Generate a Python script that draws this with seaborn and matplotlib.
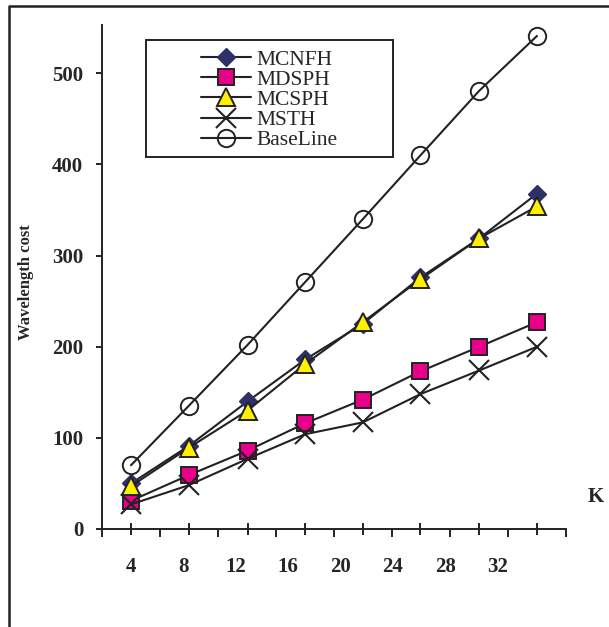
import matplotlib
matplotlib.use('Agg')
import matplotlib.pyplot as plt
import seaborn as sns
from matplotlib.lines import Line2D
from matplotlib.patches import Rectangle

# K positions of the points and the printed axis labels
k_values = [4, 8.4, 12.9, 17.3, 21.7, 26.1, 30.6, 35.0]
k_labels = [4, 8, 12, 16, 20, 24, 28, 32]

mcnfh = [50, 91, 140, 186, 225, 276, 319, 368]
mdsph = [31, 59, 86, 116, 142, 173, 200, 227]
mcsph = [47, 89, 130, 181, 227, 274, 319, 354]
msth = [27, 48, 77, 104, 117, 148, 174, 200]
baseline = [70, 135, 202, 271, 340, 410, 481, 541]

names = ['MCNFH', 'MDSPH', 'MCSPH', 'MSTH', 'BaseLine']
series = [mcnfh, mdsph, mcsph, msth, baseline]

styles = {
    'MCNFH': dict(marker='D', markersize=9.5, markerfacecolor='#2E3068', markeredgecolor='#2E3068', markeredgewidth=1),
    'MDSPH': dict(marker='s', markersize=12, markerfacecolor='#E8008A', markeredgecolor='#222222', markeredgewidth=1.4),
    'MCSPH': dict(marker='^', markersize=13.5, markerfacecolor='#FFF000', markeredgecolor='#222222', markeredgewidth=1.4),
    'MSTH': dict(marker='x', markersize=14, markeredgecolor='#222222', markeredgewidth=1.5),
    'BaseLine': dict(marker='o', markersize=12.5, markerfacecolor='none', markeredgecolor='#222222', markeredgewidth=1.4),
}

sns.set_style('ticks')
plt.rcParams['font.family'] = ['Liberation Serif', 'DejaVu Serif']

W, H = 609, 627
fig = plt.figure(figsize=(W / 100, H / 100), dpi=100)
ax = fig.add_axes([102 / W, 1 - 529 / H, 464 / W, 504 / H])

for name, vals in zip(names, series):
    sns.lineplot(x=k_values, y=vals, ax=ax, color='#222222', lw=1.5,
                 estimator=None, errorbar=None, sort=False, legend=False,
                 **styles[name])

step = (k_values[-1] - k_values[0]) / 14
ax.set_xlim(k_values[0] - step, k_values[-1] + step)
ax.set_ylim(0, 553)

# tick marks: crossing ones at the points, outward ones in between
ax.set_xticks(k_values)
ax.set_xticklabels([])
mids = [k_values[0] - step] + [(a + b) / 2 for a, b in zip(k_values[:-1], k_values[1:])] + [k_values[-1] + step]
ax.set_xticks(mids, minor=True)
ax.tick_params(axis='x', which='major', direction='inout', length=9, width=1.4, color='#222222')
ax.tick_params(axis='x', which='minor', direction='out', length=6, width=1.4, color='#222222')

ax.set_yticks([0, 100, 200, 300, 400, 500])
ax.tick_params(axis='y', direction='out', length=4.5, width=1.4, color='#222222', pad=9, labelsize=15)
for lab in ax.get_yticklabels():
    lab.set_fontweight('bold')

sec = ax.secondary_xaxis('bottom')
sec.set_xticks(k_labels)
sec.tick_params(length=0, pad=20, labelsize=15)
sec.spines['bottom'].set_visible(False)
for lab in sec.get_xticklabels():
    lab.set_fontweight('bold')

sns.despine(ax=ax)
for side in ['left', 'bottom']:
    ax.spines[side].set_linewidth(1.4)
    ax.spines[side].set_color('#222222')

ax.set_xlabel('')
ax.set_ylabel('Wavelength cost', fontsize=12, fontweight='bold')
ax.yaxis.set_label_coords((26 - 102) / 464, 0.49)
ax.yaxis.label.set_verticalalignment('center')

fig.text(596 / W, 1 - 497 / H, 'K', fontsize=15, fontweight='bold', ha='center', va='center')

ax.legend(ax.get_lines(), names, loc='center', bbox_to_anchor=(269.5 / W, 1 - 100 / H),
          bbox_transform=fig.transFigure, frameon=False, fontsize=15.5,
          handlelength=2.3, handletextpad=0.28, labelspacing=0.0, borderpad=0)

fig.add_artist(Rectangle((146 / W, 1 - 157 / H), 247 / W, 117 / H, transform=fig.transFigure,
                         fill=False, lw=1.4, ec='#222222'))
fig.add_artist(Line2D([9 / W, 9 / W, 1], [0, 1 - 6 / H, 1 - 6 / H], transform=fig.transFigure,
                      color='#222222', lw=1.8))

fig.savefig('out.png', dpi=100)
